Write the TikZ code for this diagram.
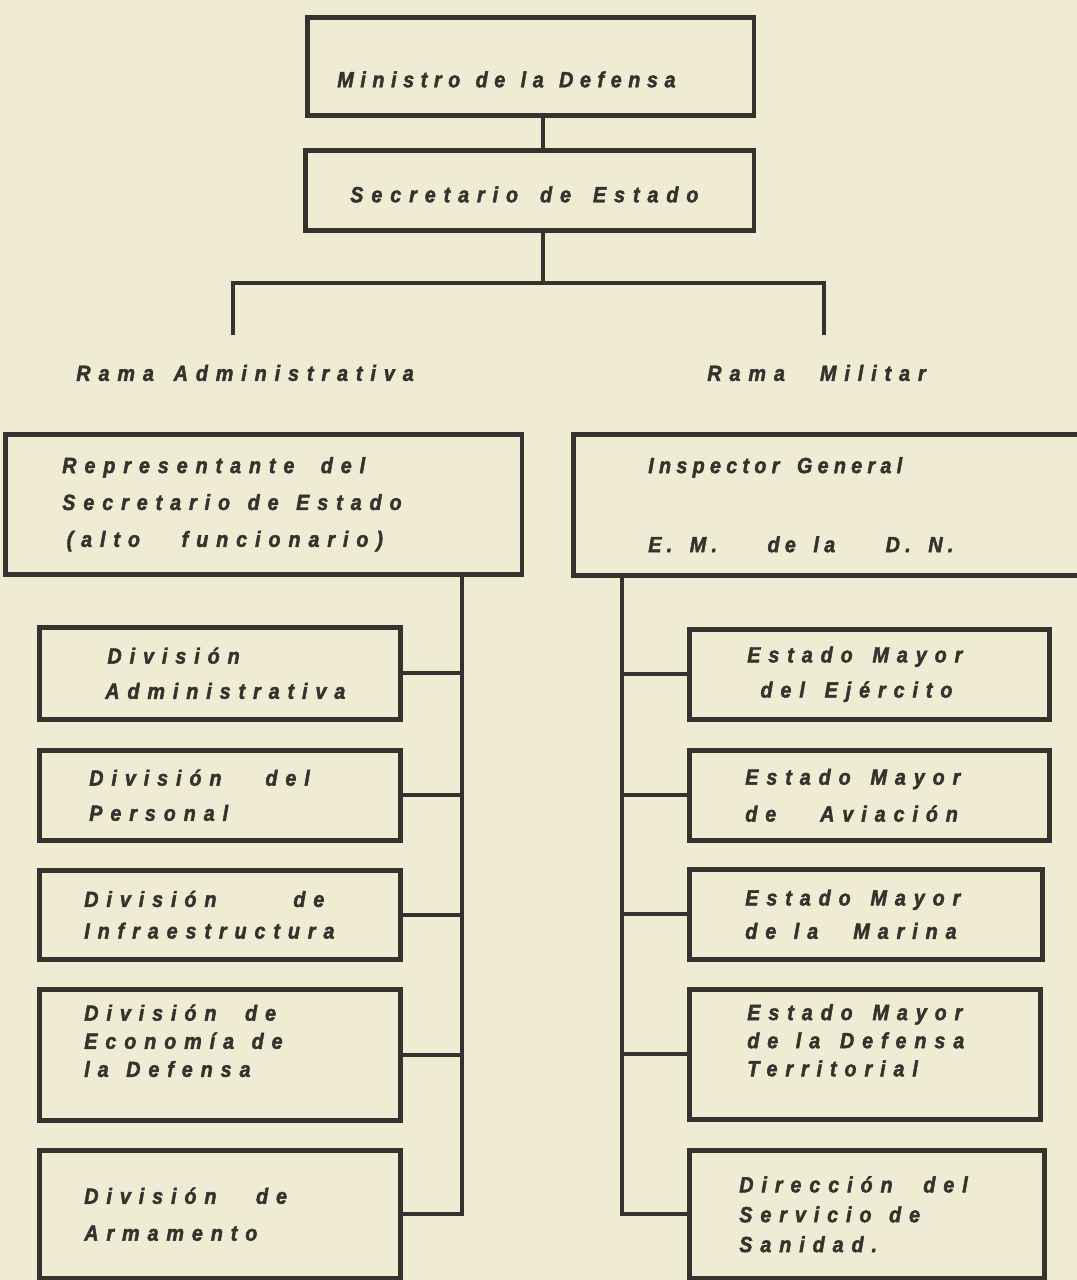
\documentclass[tikz,border=0pt]{standalone}
\usepackage{fontspec}
\usepackage{tikz}
\newfontfamily\orgfont[LetterSpace=36,FakeStretch=0.9,FakeBold=2]{Liberation Sans}
\definecolor{paper}{HTML}{F0ECD4}
\definecolor{ink}{HTML}{36322D}
\newcommand{\wgap}{\hspace{0.8em}}
\hyphenpenalty=10000

\begin{document}
\begin{tikzpicture}[x=0.02cm, y=-0.02cm,
        box/.style={draw=ink, line width=2.6pt, anchor=north west, inner ysep=0pt, align=left, text=ink,
            font=\orgfont\bfseries\itshape\fontsize{12.5}{20}\selectfont},
        rama/.style={anchor=west, inner sep=0pt, text=ink,
            font=\orgfont\bfseries\itshape\fontsize{12.5}{20}\selectfont},
        link/.style={draw=ink, line width=2.4pt, line cap=rect}]
        \useasboundingbox (0,0) rectangle (1077,1280);
        \fill[paper] (0,0) rectangle (1077,1280);

        \node[box, minimum width=8.94cm, minimum height=1.96cm, inner xsep=0.6cm, text width=7.74cm,
            text height=0.84cm, text depth=0pt] (min) at (305,15)
            {\addfontfeature{LetterSpace=30}Ministro\hspace{0.7em}de\hspace{0.7em}la\hspace{0.7em}Defensa};
        \node[box, minimum width=8.98cm, minimum height=1.6cm, inner xsep=0.9cm, text width=7.18cm,
            text height=0.48cm, text depth=0pt] (sec) at (303,148) {Secretario\hspace{1em}de\hspace{1em}Estado};

        \node[rama] (ramaadm) at (76,373) {Rama\hspace{0.9em}Administrativa};
        \node[rama] (ramamil) at (707,373) {Rama\hspace{1.6em}Militar};

        \node[box, minimum width=10.34cm, minimum height=2.8cm, inner xsep=1.14cm, text width=8.06cm] (rep) at (3,432)
            {Representante\hspace{1.2em}del\\[1pt]Secretario\wgap de\wgap Estado\\[1pt]\hspace{0.2em}(alto\hspace{1.9em}funcionario)};
        \node[box, minimum width=10.6cm, minimum height=2.82cm, inner xsep=1.5cm, text width=7.6cm] (insp) at (571,432)
            {\addfontfeature{LetterSpace=24}Inspector\wgap General\\[25pt]E.\wgap M.\hspace{2.3em}de\wgap la\hspace{2.3em}D.\wgap N.};

        \node[box, minimum width=7.22cm, minimum height=1.84cm, inner xsep=1.32cm, text width=4.58cm] (divadm) at (37,625)
            {\hspace{0.1em}División\\Administrativa};
        \node[box, minimum width=7.22cm, minimum height=1.8cm, inner xsep=1.0cm, text width=5.22cm] (divper) at (37,748)
            {División\hspace{2em}del\\Personal};
        \node[box, minimum width=7.22cm, minimum height=1.78cm, inner xsep=0.9cm, text width=5.42cm] (divinf) at (37,868)
            {División\hspace{3.5em}de\\[-2pt]Infraestructura};
        \node[box, minimum width=7.22cm, minimum height=2.62cm, inner xsep=0.9cm, text width=5.42cm] (diveco) at (37,987)
            {División\hspace{1.3em}de\\[-4pt]Economía\wgap de\\[-4pt]la\wgap Defensa\\[-4pt]\mbox{}};
        \node[box, minimum width=7.22cm, minimum height=2.56cm, inner xsep=0.9cm, text width=5.42cm] (divarm) at (37,1148)
            {División\hspace{1.8em}de\\[1pt]Armamento};

        \node[box, minimum width=7.2cm, minimum height=1.8cm, inner xsep=1.16cm, text width=4.88cm] (emej) at (687,627)
            {Estado\hspace{0.9em}Mayor\\\hspace{0.6em}del\hspace{0.9em}Ejército};
        \node[box, minimum width=7.2cm, minimum height=1.8cm, inner xsep=1.12cm, text width=4.96cm] (emav) at (687,748)
            {Estado\hspace{0.9em}Mayor\\[1pt]de\hspace{2em}Aviación};
        \node[box, minimum width=7.06cm, minimum height=1.8cm, inner xsep=1.12cm, text width=4.82cm] (emmar) at (687,867)
            {Estado\hspace{0.9em}Mayor\\[-1pt]de\wgap la\hspace{1.6em}Marina};
        \node[box, minimum width=7.02cm, minimum height=2.6cm, inner xsep=1.16cm, text width=4.7cm] (emdt) at (687,987)
            {Estado\hspace{0.9em}Mayor\\[-4pt]de\wgap la\hspace{0.9em}Defensa\\[-4pt]Territorial\\[-4pt]\mbox{}};
        \node[box, minimum width=7.1cm, minimum height=2.56cm, inner xsep=1.0cm, text width=5.1cm] (dss) at (687,1148)
            {Dirección\hspace{1.4em}del\\[-3pt]Servicio\wgap de\\[-3pt]Sanidad.};

        \coordinate (fork) at (543,283);
        \coordinate (adm) at (233,333);
        \coordinate (mil) at (824,333);
        \coordinate (lbus) at (462,0);
        \coordinate (rbus) at (622,0);

        \draw[link] (min.south -| fork) -- (sec.north -| fork);
        \draw[link] (sec.south -| fork) -- (fork);
        \draw[link] (adm) |- (fork) -| (mil);

        \draw[link] (rep.south -| lbus) -- (lbus |- divarm.east);
        \foreach \b in {divadm,divper,divinf,diveco,divarm}
            \draw[link] (\b.east) -- (\b.east -| lbus);
        \draw[link] (insp.south -| rbus) -- (rbus |- dss.west);
        \foreach \b in {emej,emav,emmar,emdt,dss}
            \draw[link] (\b.west) -- (\b.west -| rbus);
\end{tikzpicture}
\end{document}
